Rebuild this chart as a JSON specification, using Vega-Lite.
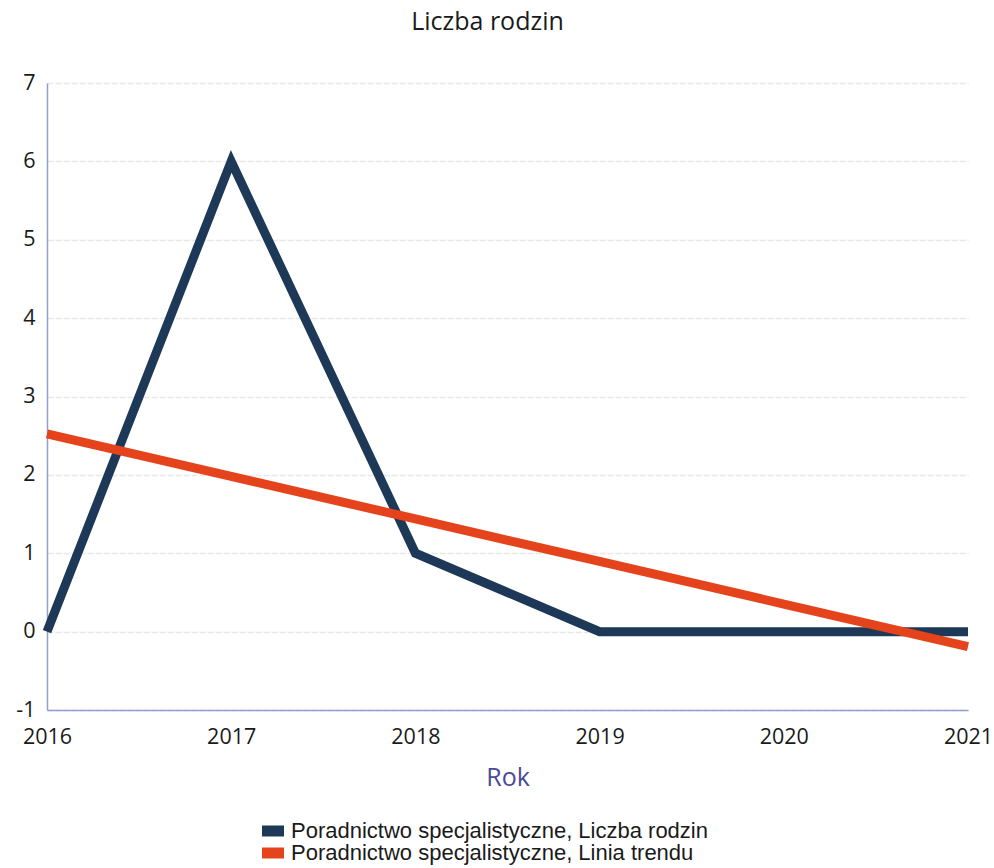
{
  "$schema": "https://vega.github.io/schema/vega-lite/v6.json",
  "autosize": "none",
  "width": 921,
  "height": 627,
  "padding": {"left": 47, "top": 83, "right": 26, "bottom": 158},
  "background": "white",
  "title": {"text": "Liczba rodzin", "font": "Open Sans", "fontSize": 25, "fontWeight": "normal", "color": "#1a1a1a", "anchor": "middle", "dx": -20, "offset": 37},
  "config": {"view": {"stroke": null}},
  "data": {"values": [
    {"Rok": 2016, "value": 0, "series": "Poradnictwo specjalistyczne, Liczba rodzin"},
    {"Rok": 2017, "value": 6, "series": "Poradnictwo specjalistyczne, Liczba rodzin"},
    {"Rok": 2018, "value": 1, "series": "Poradnictwo specjalistyczne, Liczba rodzin"},
    {"Rok": 2019, "value": 0, "series": "Poradnictwo specjalistyczne, Liczba rodzin"},
    {"Rok": 2020, "value": 0, "series": "Poradnictwo specjalistyczne, Liczba rodzin"},
    {"Rok": 2021, "value": 0, "series": "Poradnictwo specjalistyczne, Liczba rodzin"},
    {"Rok": 2016, "value": 2.524, "series": "Poradnictwo specjalistyczne, Linia trendu"},
    {"Rok": 2017, "value": 1.981, "series": "Poradnictwo specjalistyczne, Linia trendu"},
    {"Rok": 2018, "value": 1.438, "series": "Poradnictwo specjalistyczne, Linia trendu"},
    {"Rok": 2019, "value": 0.895, "series": "Poradnictwo specjalistyczne, Linia trendu"},
    {"Rok": 2020, "value": 0.352, "series": "Poradnictwo specjalistyczne, Linia trendu"},
    {"Rok": 2021, "value": -0.19, "series": "Poradnictwo specjalistyczne, Linia trendu"}
  ]},
  "mark": {"type": "line", "strokeWidth": 9, "strokeCap": "butt", "strokeJoin": "miter"},
  "encoding": {
    "x": {"field": "Rok", "type": "quantitative",
      "scale": {"domain": [2016, 2021], "nice": false, "zero": false},
      "axis": {"values": [2016, 2017, 2018, 2019, 2020, 2021], "format": "d", "grid": false, "ticks": false,
        "domainColor": "#8f9fd0", "domainWidth": 1.5, "labelFont": "Open Sans", "labelFontSize": 21.5, "labelColor": "#1a1a1a",
        "labelPadding": 16, "labelFlush": false, "title": "Rok", "titleFont": "Open Sans", "titleFontSize": 25, "titleFontWeight": "normal",
        "titleColor": "#4a4a99", "titlePadding": 18}},
    "y": {"field": "value", "type": "quantitative",
      "scale": {"domain": [-1, 7], "nice": false},
      "axis": {"values": [-1, 0, 1, 2, 3, 4, 5, 6, 7], "grid": true, "gridColor": "#e8e8e8", "gridDash": [6, 2], "gridWidth": 1.5,
        "ticks": false, "domainColor": "#8f9fd0", "domainWidth": 1.5, "labelFont": "Open Sans", "labelFontSize": 21.5,
        "labelExpr": "datum.value < 0 ? '-' + abs(datum.value) : datum.label",
        "labelColor": "#1a1a1a", "labelPadding": 12, "title": null}},
    "color": {"field": "series", "type": "nominal",
      "scale": {"domain": ["Poradnictwo specjalistyczne, Liczba rodzin", "Poradnictwo specjalistyczne, Linia trendu"], "range": ["#1d3957", "#e4431b"]},
      "legend": {"title": null, "orient": "none", "legendX": 215, "legendY": 737, "direction": "vertical",
        "symbolType": "M-1,-0.5H1V0.5H-1Z", "symbolSize": 484, "symbolStrokeWidth": 0,
        "labelFont": "Liberation Sans", "labelFontSize": 22, "labelColor": "#1a1a1a", "labelLimit": 700, "rowPadding": 0, "labelOffset": 7,
        "encode": {"symbols": {"update": {"fill": {"scale": "color", "field": "value"}, "fillOpacity": {"value": 1}}}}}}
  }
}
